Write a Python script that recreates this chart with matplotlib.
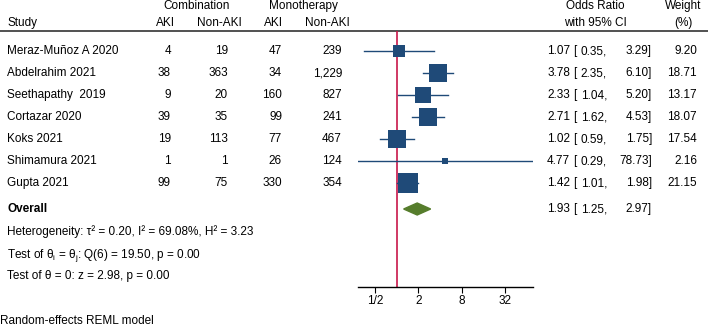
import numpy as np
import matplotlib.pyplot as plt
from matplotlib.patches import Polygon

plt.rcParams['font.family'] = ['Liberation Sans', 'DejaVu Sans']

# -------------------------
# Data
# -------------------------

studies = ['Meraz-Muñoz A 2020', 'Abdelrahim 2021', 'Seethapathy  2019',
           'Cortazar 2020', 'Koks 2021', 'Shimamura 2021', 'Gupta 2021']
comb_aki = ['4', '38', '9', '39', '19', '1', '99']
comb_non = ['19', '363', '20', '35', '113', '1', '75']
mono_aki = ['47', '34', '160', '99', '77', '26', '330']
mono_non = ['239', '1,229', '827', '241', '467', '124', '354']
odds = [1.07, 3.78, 2.33, 2.71, 1.02, 4.77, 1.42]
ci_low = [0.35, 2.35, 1.04, 1.62, 0.59, 0.29, 1.01]
ci_high = [3.29, 6.10, 5.20, 4.53, 1.75, 78.73, 1.98]
weights = [9.20, 18.71, 13.17, 18.07, 17.54, 2.16, 21.15]

overall = 1.93
overall_low = 1.25
overall_high = 2.97

het_lines = ['Heterogeneity: τ² = 0.20, I² = 69.08%, H² = 3.23',
             'Test of θ$_\\mathregular{i}$ = θ$_\\mathregular{j}$: Q(6) = 19.50, p = 0.00',
             'Test of θ = 0: z = 2.98, p = 0.00']

xticks = [0.5, 2, 8, 32]
xtick_labels = ['1/2', '2', '8', '32']

# -------------------------
# Layout (pixels)
# -------------------------

W, H = 708, 327
navy = '#1f4a78'
green = '#567d2c'
red = '#c8174a'
fs = 8.5

row_y = [51 + 22 * i for i in range(len(studies))]
overall_y = 209
top_line = 31
axis_y = 287

fig = plt.figure(figsize=(W / 100, H / 100), dpi=100)

tab = fig.add_axes([0, 0, 1, 1])
tab.set_xlim(0, W)
tab.set_ylim(H, 0)
tab.axis('off')


def put(x, y, s, ha='left', **kw):
    tab.text(x, y - 1.5, s, ha=ha, va='center_baseline', fontsize=fs, **kw)


ax = fig.add_axes([358 / W, (H - axis_y) / H, (533 - 358) / W, (axis_y - top_line) / H])
ax.set_xscale('log')
ax.set_xlim(min(ci_low), max(ci_high))
ax.set_ylim(axis_y, top_line)
ax.patch.set_alpha(0)

# header
put(197, 6, 'Combination', ha='center')
put(303, 6, 'Monotherapy', ha='center')
put(7, 23, 'Study')
put(175, 23, 'AKI', ha='right')
put(242, 23, 'Non-AKI', ha='right')
put(283, 23, 'AKI', ha='right')
put(350, 23, 'Non-AKI', ha='right')
put(595, 6, 'Odds Ratio', ha='center')
put(595, 23, 'with 95% CI', ha='center')
put(683, 6, 'Weight', ha='center')
put(683, 23, '(%)', ha='center')
tab.plot([0, W], [top_line, top_line], color='#333333', lw=1.2)

# rows
for i, y in enumerate(row_y):
    put(7, y, studies[i])
    put(171, y, comb_aki[i], ha='right')
    put(228, y, comb_non[i], ha='right')
    put(282, y, mono_aki[i], ha='right')
    put(342, y, mono_non[i], ha='right')
    put(570, y, f'{odds[i]:.2f}', ha='right')
    put(573, y, '[')
    put(607, y, f'{ci_low[i]:.2f},', ha='right')
    put(652, y, f'{ci_high[i]:.2f}]', ha='right')
    put(697, y, f'{weights[i]:.2f}', ha='right')

    ax.plot([ci_low[i], ci_high[i]], [y, y], color=navy, lw=1.0, zorder=2)
    side = 4.2 * np.sqrt(weights[i]) * 0.72
    ax.scatter([odds[i]], [y], marker='s', s=side ** 2, color=navy,
               linewidths=0, zorder=3)

# overall
put(7, overall_y, 'Overall', fontweight='bold')
put(570, overall_y, f'{overall:.2f}', ha='right')
put(573, overall_y, '[')
put(607, overall_y, f'{overall_low:.2f},', ha='right')
put(652, overall_y, f'{overall_high:.2f}]', ha='right')
ax.add_patch(Polygon([[overall_low, overall_y], [overall, overall_y - 6],
                      [overall_high, overall_y], [overall, overall_y + 6]],
                     closed=True, color=green, zorder=3))

for k, line in enumerate(het_lines):
    put(7, 232 + 22 * k, line)

put(0, 321, 'Random-effects REML model')

# reference line and axis
ax.axvline(1, color=red, lw=1.2, zorder=1)
for s in ['top', 'right', 'left']:
    ax.spines[s].set_visible(False)
ax.spines['bottom'].set_linewidth(1.0)
ax.set_yticks([])
ax.set_xticks(xticks)
ax.set_xticklabels(xtick_labels, fontsize=fs)
ax.minorticks_off()
ax.tick_params(axis='x', length=4, width=0.8, pad=2)

plt.savefig('out.png', dpi=100)
